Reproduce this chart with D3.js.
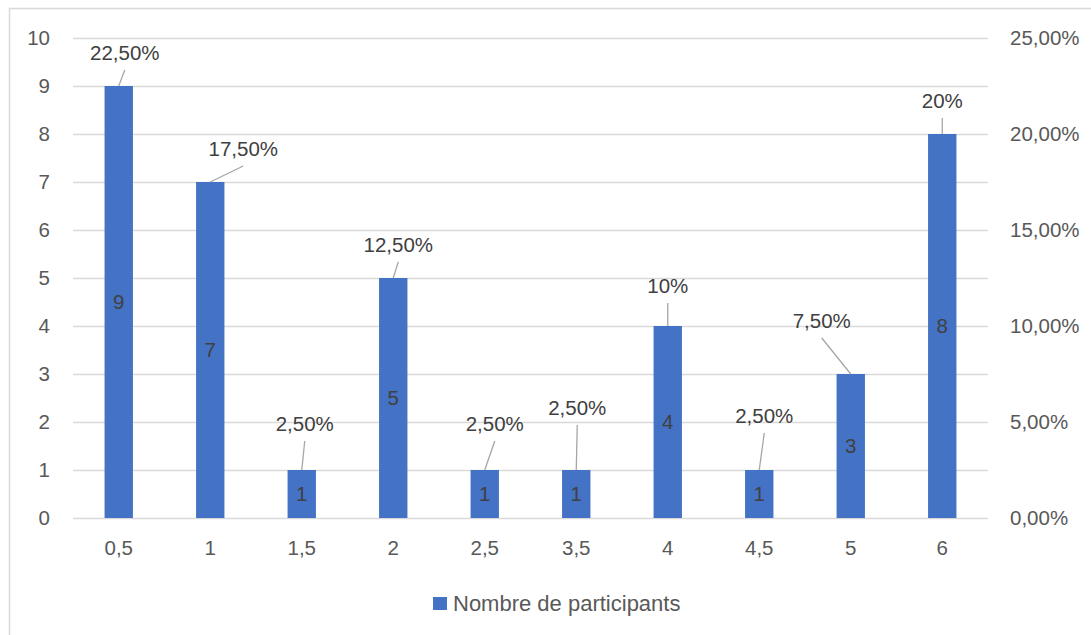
<!DOCTYPE html>
<html><head><meta charset="utf-8">
<script src="https://cdn.jsdelivr.net/npm/d3@7"></script>
<style>body{margin:0;background:#fff;}svg{display:block;font-family:"Liberation Sans",Arial,sans-serif;}</style>
</head><body>
<script>
const categories = ["0,5","1","1,5","2","2,5","3,5","4","4,5","5","6"];
const participants = [9,7,1,5,1,1,4,1,3,8];
const shares = [0.225,0.175,0.025,0.125,0.025,0.025,0.10,0.025,0.075,0.20];
const shareLabels = ["22,50%","17,50%","2,50%","12,50%","2,50%","2,50%","10%","2,50%","7,50%","20%"];
const leftTicks = [0,1,2,3,4,5,6,7,8,9,10];
const rightTicks = [0,0.05,0.10,0.15,0.20,0.25];
const rightTickLabels = ["0,00%","5,00%","10,00%","15,00%","20,00%","25,00%"];
const seriesName = "Nombre de participants";

// label layout offsets (label centre relative to bar top centre)
const labelOffsets = [[6,-33],[33,-33],[3,-46],[5,-33],[10,-46],[1,-62],[0,-40],[5,-54],[-29,-53],[0,-33]];

const W = 1091, H = 635;
const FS = 20.5;
const svg = d3.select("body").append("svg").attr("width", W).attr("height", H);
svg.append("rect").attr("x",9.5).attr("y",8.5).attr("width",1200).attr("height",800)
  .attr("fill","#fff").attr("stroke","#d9d9d9").attr("stroke-width",1.5);

const x = d3.scaleBand().domain(categories).range([73,988]).paddingInner(0.69).paddingOuter(0.345);
const y = d3.scaleLinear().domain([0,10]).range([518,38]);
const y2 = d3.scaleLinear().domain([0,0.25]).range([518,38]);

// gridlines
svg.append("g").selectAll("line").data(leftTicks).join("line")
  .attr("x1",73).attr("x2",988).attr("y1",d=>y(d)+0.5).attr("y2",d=>y(d)+0.5)
  .attr("stroke","#d9d9d9").attr("stroke-width",1.3);

// left axis
const gl = svg.append("g").attr("transform","translate(73,0)")
  .call(d3.axisLeft(y).tickValues(leftTicks).tickSize(0).tickPadding(23).tickFormat(d=>d));
gl.select(".domain").remove();
gl.selectAll("text").attr("font-size",FS).attr("fill","#595959").attr("font-family","Liberation Sans, Arial, sans-serif");

// right axis
const gr = svg.append("g").attr("transform","translate(988,0)")
  .call(d3.axisRight(y2).tickValues(rightTicks).tickSize(0).tickPadding(22).tickFormat((d,i)=>rightTickLabels[i]));
gr.select(".domain").remove();
gr.selectAll("text").attr("font-size",FS).attr("fill","#595959").attr("font-family","Liberation Sans, Arial, sans-serif");

// bottom axis
const gb = svg.append("g").attr("transform","translate(0,518)")
  .call(d3.axisBottom(x).tickSize(0).tickPadding(22));
gb.select(".domain").remove();
gb.selectAll("text").attr("font-size",FS).attr("fill","#595959").attr("font-family","Liberation Sans, Arial, sans-serif");

// bars
svg.append("g").selectAll("rect").data(participants).join("rect")
  .attr("x",(d,i)=>x(categories[i])).attr("width",x.bandwidth())
  .attr("y",d=>y(d)).attr("height",d=>y(0)-y(d)).attr("fill","#4472c4");

// value labels inside bars
svg.append("g").selectAll("text").data(participants).join("text")
  .attr("x",(d,i)=>x(categories[i])+x.bandwidth()/2)
  .attr("y",d=>(y(d)+y(0))/2).attr("dy","0.35em")
  .attr("text-anchor","middle").attr("font-size",FS).attr("fill","#404040").text(d=>d);

// share labels with leader lines
const lg = svg.append("g");
shares.forEach((s,i)=>{
  const bx = x(categories[i])+x.bandwidth()/2;
  const by = y2(s);
  const lx = bx + labelOffsets[i][0];
  const ly = by + labelOffsets[i][1];
  lg.append("line").attr("x1",lx).attr("y1",ly+17).attr("x2",bx).attr("y2",by)
    .attr("stroke","#a6a6a6").attr("stroke-width",1.3);
  lg.append("text").attr("x",lx).attr("y",ly).attr("dy","0.35em").attr("text-anchor","middle")
    .attr("font-size",FS).attr("fill","#404040").text(shareLabels[i]);
});

// legend
const leg = svg.append("g");
leg.append("rect").attr("x",433).attr("y",597).attr("width",14).attr("height",13).attr("fill","#4472c4");
leg.append("text").attr("x",453).attr("y",603.5).attr("dy","0.35em").attr("font-size",22).attr("fill","#595959").text(seriesName);
</script>
</body></html>
